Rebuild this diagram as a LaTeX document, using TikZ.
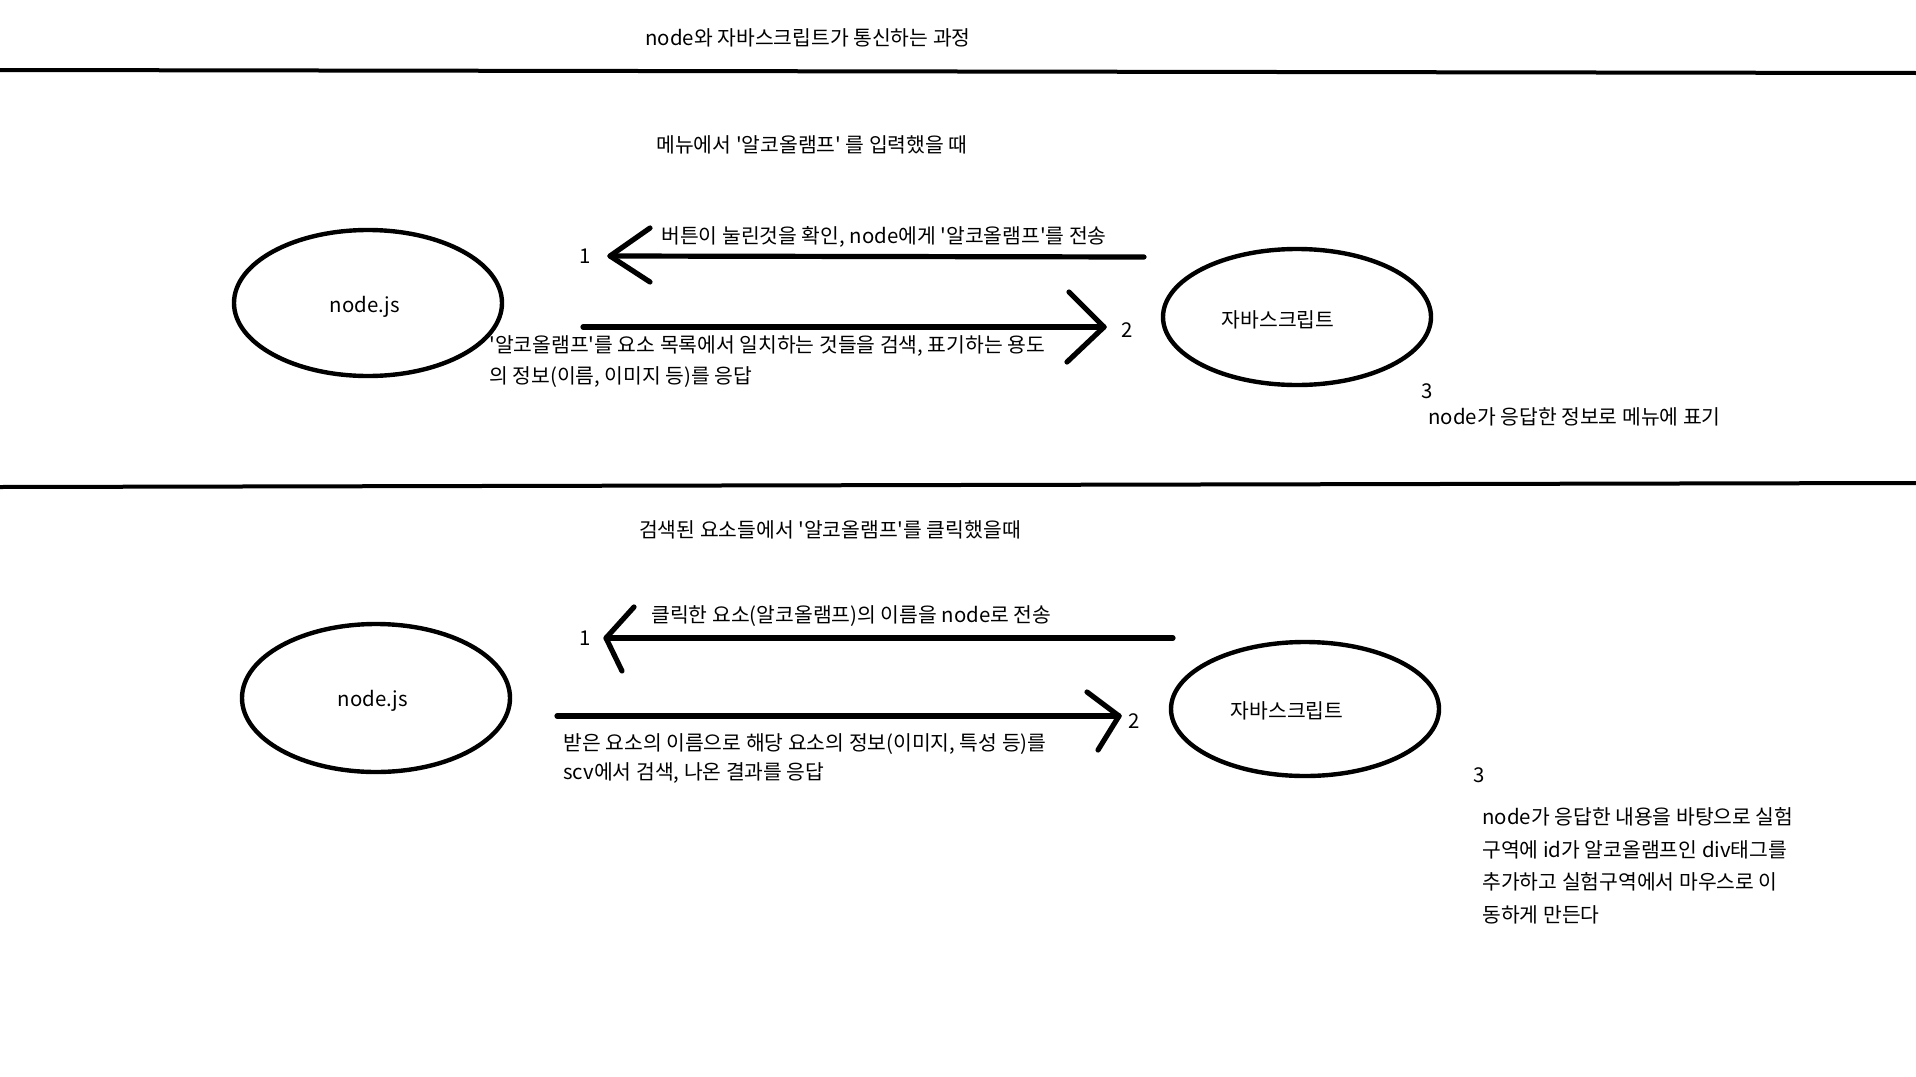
\documentclass[tikz,border=0pt]{standalone}
\usepackage{fontspec}
\setmainfont{Noto Sans CJK KR}[Ligatures=TeXOff]
\usetikzlibrary{shapes.geometric}
\tikzset{
  bubble/.style={draw,ellipse,line width=2.2pt,inner sep=0pt},
  txt/.style={inner sep=0pt,anchor=base,font=\fontsize{10.2}{15.5}\selectfont},
  note/.style={txt,anchor=base west,align=left},
  rule/.style={line width=2pt},
  shaft/.style={line width=2.6pt,line cap=round,line join=round},
}
\begin{document}
\begin{tikzpicture}[x=0.5pt,y=-0.5pt]
\useasboundingbox[fill=white] (0,0) rectangle (1916,1076);
% titles and dividers
\node[txt] (title) at (808,45) {node와 자바스크립트가 통신하는 과정};
\draw[rule] (0,70) -- (1916,73);
\draw[rule] (0,487) -- (1916,483);
% typing the menu
\node[txt] (case1) at (812,152) {메뉴에서 '알코올램프' 를 입력했을 때};
\node[bubble,minimum width=134pt,minimum height=73pt] (node1) at (368,303) {};
\node[txt] (node1lbl) at (365,312) {node.js};
\node[bubble,minimum width=134pt,minimum height=68pt] (js1) at (1297,317) {};
\node[txt] (js1lbl) at (1278,327) {자바스크립트};
\coordinate (send1a) at (1144,257);
\coordinate (send1b) at (610,256);
\draw[shaft] (send1a) -- (send1b);
\draw[shaft] (send1b) ++(40,-28) -- (send1b) -- ++(40,26);
\node[txt] (step1a) at (585,263) {1};
\node[note] (msg1a) at (661,243) {버튼이 눌린것을 확인, node에게 '알코올램프'를 전송};
\coordinate (back1a) at (583,327);
\coordinate (back1b) at (1104,327);
\draw[shaft] (back1a) -- (back1b);
\draw[shaft] (back1b) ++(-35,-35) -- (back1b) -- ++(-37,35);
\node[txt] (step1b) at (1127,337) {2};
\node[note] (msg1b) at (489,383) {'알코올램프'를 요소 목록에서 일치하는 것들을 검색, 표기하는 용도\\의 정보(이름, 이미지 등)를 응답};
\node[txt] (step1c) at (1427,398) {3};
\node[note] (msg1c) at (1428,424) {node가 응답한 정보로 메뉴에 표기};
% clicking the result
\node[txt] (case2) at (830,537) {검색된 요소들에서 '알코올램프'를 클릭했을때};
\node[bubble,minimum width=134pt,minimum height=74pt] (node2) at (376,698) {};
\node[txt] (node2lbl) at (373,706) {node.js};
\node[bubble,minimum width=134pt,minimum height=67pt] (js2) at (1305,709) {};
\node[txt] (js2lbl) at (1287,718) {자바스크립트};
\coordinate (send2a) at (1173,638);
\coordinate (send2b) at (606,638);
\draw[shaft] (send2a) -- (send2b);
\draw[shaft] (send2b) ++(28,-31) -- (send2b) -- ++(16,33);
\node[txt] (step2a) at (585,645) {1};
\node[note] (msg2a) at (651,622) {클릭한 요소(알코올램프)의 이름을 node로 전송};
\coordinate (back2a) at (557,716);
\coordinate (back2b) at (1119,716);
\draw[shaft] (back2a) -- (back2b);
\draw[shaft] (back2b) ++(-32,-24) -- (back2b) -- ++(-21,34);
\node[txt] (step2b) at (1134,728) {2};
\node[note,font=\fontsize{10.2}{14.5}\selectfont] (msg2b) at (563,779) {받은 요소의 이름으로 해당 요소의 정보(이미지, 특성 등)를\\scv에서 검색, 나온 결과를 응답};
\node[txt] (step2c) at (1479,782) {3};
\node[note,font=\fontsize{10.2}{16.2}\selectfont] (msg2c) at (1482,922) {node가 응답한 내용을 바탕으로 실험\\구역에 id가 알코올램프인 div태그를\\추가하고 실험구역에서 마우스로 이\\동하게 만든다};
\end{tikzpicture}
\end{document}
